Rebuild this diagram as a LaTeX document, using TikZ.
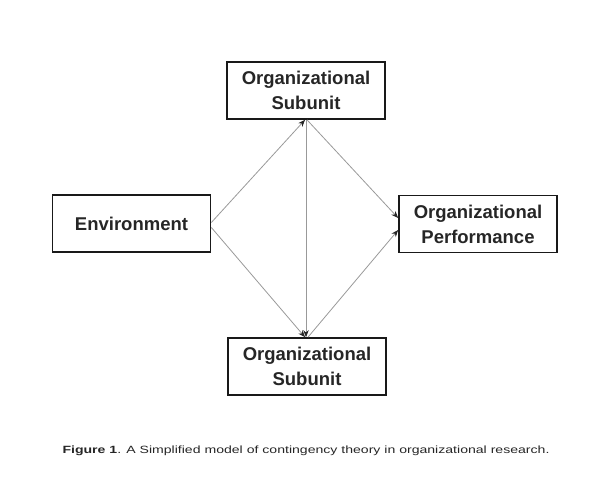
\documentclass[tikz,border=0pt]{standalone}
\usepackage{fontspec}
\setmainfont{Liberation Sans}
\usetikzlibrary{arrows.meta}
\begin{document}
\begin{tikzpicture}[x=1pt,y=-1pt,
  box/.style={draw=black!90,line width=1.7pt,minimum width=158pt,minimum height=57pt,
    align=center,inner sep=0pt,font=\fontsize{18.5}{25}\selectfont\bfseries,text=black!85},
  conn/.style={draw=black!40,line width=0.8pt,-{Stealth[length=7pt,width=5.5pt,black!85]}}]
\useasboundingbox (0,0) rectangle (599,480);
\node[box] (top) at (306,90.5) {Organizational\\Subunit};
\node[box] (env) at (131.5,223.5) {Environment};
\node[box] (perf) at (478,224) {Organizational\\Performance};
\node[box] (bot) at (307,366.5) {Organizational\\Subunit};
\draw[conn] ([yshift=1pt]env.east) -- ([xshift=-1pt]top.south);
\draw[conn] ([yshift=-4pt]env.east) -- ([xshift=-2pt]bot.north);
\draw[conn] (top.south) -- ([xshift=-1pt]bot.north);
\draw[conn] ([xshift=1pt]top.south) -- ([yshift=6pt]perf.west);
\draw[conn] ([xshift=1pt]bot.north) -- ([yshift=-6pt]perf.west);
\node[font=\fontsize{10.5}{12}\selectfont,text=black!85,inner sep=0pt] (cap) at (306,451) {\scalebox{1.34}[1]{\textbf{Figure 1}. A Simplified model of contingency theory in organizational research.}};
\end{tikzpicture}
\end{document}
